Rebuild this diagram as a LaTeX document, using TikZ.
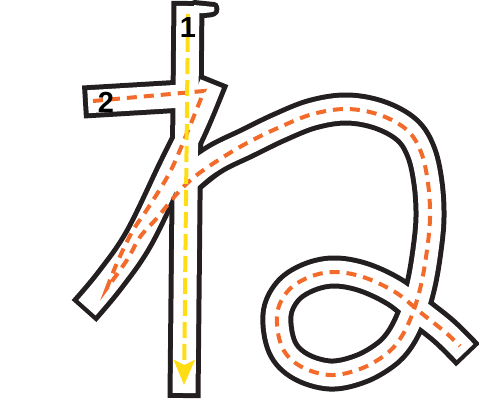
\documentclass[tikz,border=0pt]{standalone}
\usepackage{fontspec}
\setmainfont{Liberation Sans}
\usetikzlibrary{arrows.meta}
\definecolor{inkDark}{HTML}{231F20}
\definecolor{guideOrange}{HTML}{F26B2A}
\definecolor{guideYellow}{HTML}{FFDD15}

% centre lines of the strokes (pixel units, y down)
\newcommand{\diagLine}{plot[smooth, tension=0.6] coordinates {(213,79) (193,127) (172,170) (139,238) (110,280) (84,311)}}
\newcommand{\loopLine}{plot[smooth, tension=0.6] coordinates {(183,184) (213,160) (247,143) (280,127) (313,114) (347,109) (380,115) (407,130) (421,152) (428,183) (430,217) (427,250) (421,285) (412,315) (400,339) (385,355) (360,369) (330,375) (300,366) (282,347) (277,315) (287,292) (307,278) (333,272) (363,277) (395,292) (420,312) (445,332) (468,355)}}
\newcommand{\flareShape}{(194,5) -- (214,7) .. controls (215,12) .. (204,13) -- (194,13) -- cycle}

\begin{document}
\begin{tikzpicture}[x=1pt, y=-1pt,
    outerstroke/.style={inkDark, line width=33pt},
    innerstroke/.style={white, line width=23pt, shorten <=5pt, shorten >=5pt},
    orangedash/.style={guideOrange, line width=4pt, dash pattern=on 10pt off 7pt},
    yellowdash/.style={guideYellow, line width=4pt, dash pattern=on 16pt off 6pt},
    numlabel/.style={text=black, font=\fontsize{29}{29}\selectfont\bfseries, inner sep=0pt}]
  \useasboundingbox (0,0) rectangle (479,400);

  % black pass
  \draw[outerstroke] (83,102) -- (200,95);
  \draw[outerstroke] (188,1) -- (184,398);
  \draw[outerstroke] \diagLine;
  \draw[outerstroke] \loopLine;
  \filldraw[inkDark, line width=10pt, line join=round] \flareShape;

  % white pass
  \draw[innerstroke] (83,102) -- (200,95);
  \draw[innerstroke] (188,1) -- (184,398);
  \draw[innerstroke] \diagLine;
  \draw[innerstroke] \loopLine;
  \fill[white] \flareShape;

  % guide lines
  \draw[orangedash] (93,101) -- (204,91)
    -- plot[smooth, tension=0.6] coordinates {(204,91) (187,133) (170,172) (148,208) (132,232) (117,263) (107,288)}
    -- plot[smooth, tension=0.6] coordinates {(107,288) (127,260) (140,237) (157,218) (175,196) (193,178) (217,161) (247,143) (280,127) (313,114) (347,109) (380,115) (407,130) (421,152) (428,183) (430,217) (427,250) (421,285) (412,315) (400,339) (385,355) (360,369) (330,375) (300,366) (282,347) (277,315) (287,292) (307,278) (333,272) (363,277) (395,292) (420,312) (445,332) (460,346)};
  \coordinate (ytop) at (188,14);
  \coordinate (ybot) at (184,385);
  \draw[yellowdash, -{Stealth[length=25pt, width=21pt, inset=5pt]}] (ytop) -- (ybot);

  \node[numlabel] (one) at (188,28) {1};
  \node[numlabel] (two) at (106,102) {2};
\end{tikzpicture}
\end{document}
